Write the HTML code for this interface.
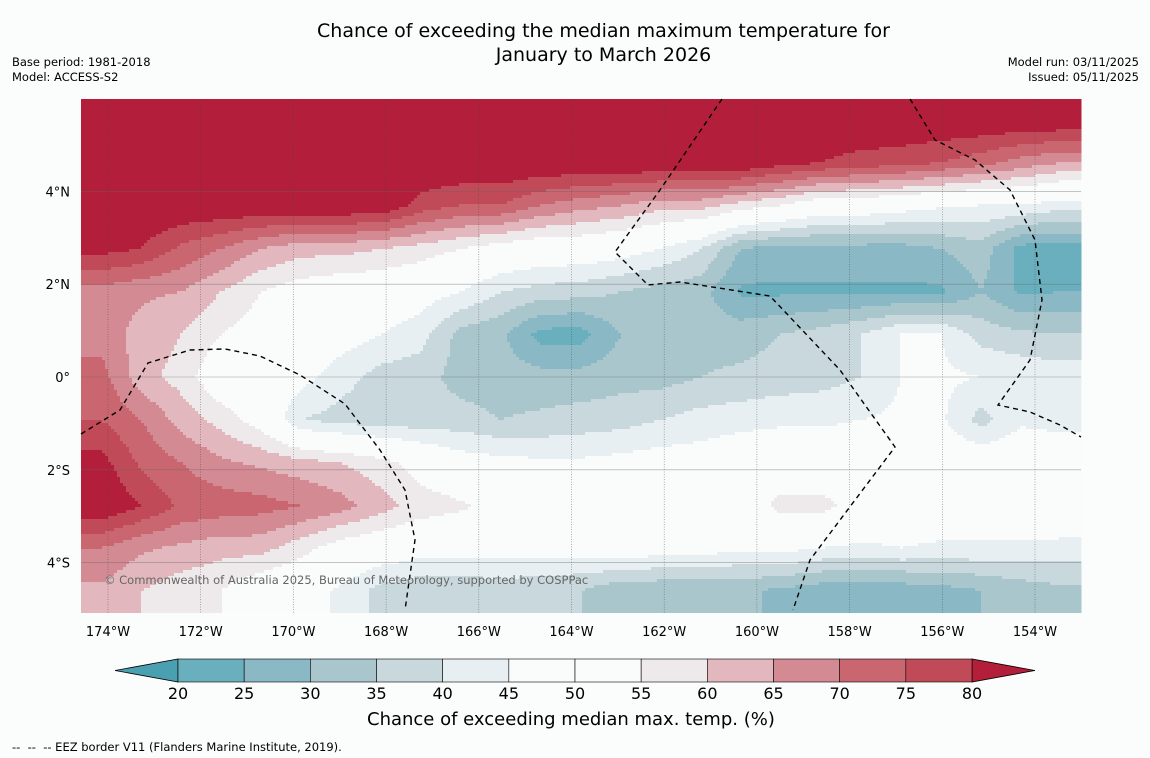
<!DOCTYPE html>
<html><head><meta charset="utf-8">
<style>
body{margin:0;background:#fbfdfc;font-family:"DejaVu Sans","Liberation Sans",sans-serif;}
#wrap{position:relative;width:1150px;height:758px;overflow:hidden;background:#fbfdfc}
.t{position:absolute;white-space:nowrap;color:#000}
</style></head><body>
<div id="wrap">
<div class="t" style="left:0;width:1207px;top:19px;font-size:19px;text-align:center;line-height:24px">Chance of exceeding the median maximum temperature for<br>January to March 2026</div>
<div class="t" style="left:12px;top:55px;font-size:11.5px;line-height:15px">Base period: 1981-2018<br>Model: ACCESS-S2</div>
<div class="t" style="right:11px;top:55px;font-size:11.5px;line-height:15px;text-align:right">Model run: 03/11/2025<br>Issued: 05/11/2025</div>
<svg id="svg" width="1150" height="758" style="position:absolute;left:0;top:0"></svg>
<div class="t" style="left:367px;top:709px;font-size:18px">Chance of exceeding median max. temp. (%)</div>
<div class="t" style="left:12px;top:740px;font-size:11.5px">-- &nbsp;-- &nbsp;-- EEZ border V11 (Flanders Marine Institute, 2019).</div>
</div>
<script>
const lonTicks=[-174,-172,-170,-168,-166,-164,-162,-160,-158,-156,-154];
const latTicks=[4,2,0,-2,-4];
const binEdges=[20,25,30,35,40,45,50,55,60,65,70,75,80];
const binColors=["#4a9fb0","#6aafbd","#8ab8c4","#a9c6cc","#c8d8dd","#e8eff2","#fafcfc","#fafcfc","#eeeaeb","#e2b7bd","#d48a93","#c96670","#c04a58","#b31e3a"];
const rowLats=[5.55,4.62,3.7,2.77,1.84,0.92,0,-0.92,-1.85,-2.78,-3.68,-4.6];
const grid=[
[85,85,85,85,85,85,85,85,85,85,85,85,85,85,85,85,85,85,85,85,85,85,85,85,85],
[85,85,85,85,85,85,85,85,85,85,85,85,85,85,85,85,85,82,80,78,77,75,72,68,65],
[85,85,85,85,85,85,85,85,78,75,75,70,67,65,62,62,58,55,50,50,48,46,45,45,42],
[82,80,74,70,65,62,62,60,58,55,52,50,50,48,45,40,30,28,28,28,28,30,33,23,23],
[68,66,65,60,55,52,50,50,48,45,40,38,37,35,33,32,24,24,24,24,24,24,30,24,25],
[68,63,60,55,52,50,48,45,42,33,31,23,23,30,30,33,33,35,37,40,45,45,38,36,35],
[72,62,58,50,50,47,42,38,37,33,32,32,32,33,33,35,36,37,38,40,45,46,45,44,43],
[75,70,63,58,52,40,38,37,37,37,35,36,37,38,40,42,43,44,44,45,46,46,38,44,43],
[82,74,70,66,64,62,60,57,52,48,47,46,46,47,48,48,50,50,50,50,50,50,50,50,50],
[85,80,74,73,72,70,67,62,58,56,52,50,50,50,50,50,50,57,57,52,50,50,50,50,52],
[70,66,64,62,62,57,52,50,48,48,48,48,48,50,48,48,46,47,45,44,45,44,44,44,43],
[64,60,57,55,50,48,44,38,36,36,37,36,35,31,31,31,31,29,27,26,27,28,30,32,34]];
const colLons=grid[0].map((_,i)=>-174.58+(i+0.5)*0.8628);
const NS="http://www.w3.org/2000/svg";
const svg=document.getElementById('svg');
const X0=81,X1=1081,Y0=99,Y1=613;
const xs=lon=>108+(lon+174)*46.35;
const ys=lat=>377-lat*46.4;
function mk(tag,attrs,parent){const e=document.createElementNS(NS,tag);for(const k in attrs)e.setAttribute(k,attrs[k]);(parent||svg).appendChild(e);return e;}
function color(v){let i=0;while(i<binEdges.length&&v>=binEdges[i])i++;return binColors[i];}
function interp(arr,v){
  if(arr[0]<arr[arr.length-1]){for(let i=0;i<arr.length-1;i++)if(v<=arr[i+1])return i+(v-arr[i])/(arr[i+1]-arr[i]);return arr.length-1;}
  for(let i=0;i<arr.length-1;i++)if(v>=arr[i+1])return i+(arr[i]-v)/(arr[i]-arr[i+1]);return arr.length-1;}
function val(lon,lat){
  let fi=Math.max(0,Math.min(colLons.length-1.0001,interp(colLons,lon)));
  let fj=Math.max(0,Math.min(rowLats.length-1.0001,interp(rowLats,lat)));
  const i=Math.floor(fi),j=Math.floor(fj),a=(fi-i),b=(fj-j);
  return grid[j][i]*(1-a)*(1-b)+grid[j][i+1]*a*(1-b)+grid[j+1][i]*(1-a)*b+grid[j+1][i+1]*a*b;}
const field=mk('g',{});


const S=3;
for(let y=Y0;y<Y1;y+=S){
  const lat=(377-(y+S/2))/46.4;
  let runStart=X0,runCol=null;
  for(let x=X0;x<=X1+S;x+=S){
    const c=x<X1?color(val(-174+(x+S/2-108)/46.35,lat)):null;
    if(c!==runCol){
      if(runCol){const r=mk('rect',{x:runStart,y:y,width:Math.min(x,X1)-runStart+0.5,height:Math.min(S+0.5,Y1-y),fill:runCol},field);
        
        }
      runStart=x;runCol=c;}
  }
}
lonTicks.forEach(l=>{const e=mk('line',{x1:xs(l),x2:xs(l),y1:Y0,y2:Y1,stroke:'#444','stroke-width':0.6,'stroke-dasharray':'1,1.5','stroke-opacity':0.7});
  
  const t=mk('text',{x:xs(l),y:636,'font-size':13,'text-anchor':'middle','font-family':'DejaVu Sans'});t.textContent=Math.abs(l)+'°W';
  });
latTicks.forEach(l=>{const e=mk('line',{x1:X0,x2:X1,y1:ys(l),y2:ys(l),stroke:'#666','stroke-width':0.6,'stroke-opacity':0.6});
  
  const t=mk('text',{x:70,y:ys(l)+5,'font-size':13,'text-anchor':'end','font-family':'DejaVu Sans'});t.textContent=l===0?'0°':Math.abs(l)+'°'+(l>0?'N':'S');
  });
[["M722,99 L660,190 L615,252 L648,285 L680,282 L770,296 L840,370 L895,447 L840,520 L810,560 L793,610"],
 ["M81,434 L120,410 L148,363 L190,350 L225,349 L260,356 L300,375 L345,404 L380,450 L405,490 L415,540 L405,610"],
 ["M910,99 L935,140 L975,160 L1010,190 L1035,240 L1042,300 L1030,360 L998,405 L1030,412 L1060,425 L1081,437"]]
.forEach(d=>{const e=mk('path',{d:d[0],fill:'none',stroke:'#000','stroke-width':1.4,'stroke-dasharray':'5,4'});
  });
const cp=mk('text',{x:104,y:584,'font-size':11.5,fill:'#666','font-family':'DejaVu Sans'});cp.textContent='© Commonwealth of Australia 2025, Bureau of Meteorology, supported by COSPPac';

const cb=mk('g',{});
const cbx=178,cbw=794/12;
mk('polygon',{points:`${cbx},659 ${cbx},682 115,670.5`,fill:binColors[0],stroke:'#000','stroke-width':0.8},cb);
mk('polygon',{points:`${cbx+794},659 ${cbx+794},682 1035,670.5`,fill:binColors[13],stroke:'#000','stroke-width':0.8},cb);
for(let i=0;i<12;i++){const r=mk('rect',{x:cbx+i*cbw,y:659,width:cbw,height:23,fill:binColors[i+1],stroke:'#000','stroke-width':0.6},cb);
  }
binEdges.forEach((v,i)=>{const t=mk('text',{x:cbx+i*cbw,y:699,'font-size':16,'text-anchor':'middle','font-family':'DejaVu Sans'},cb);t.textContent=v;
  });
</script>
</body></html>
